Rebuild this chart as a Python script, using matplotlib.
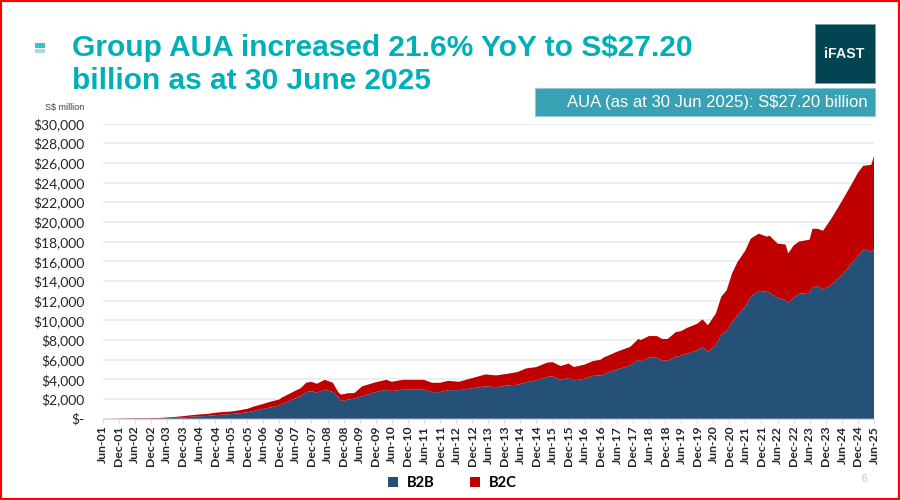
import matplotlib
matplotlib.use('Agg')
import matplotlib.pyplot as plt
import matplotlib.patches as mpatches
import numpy as np

# months since Jun-01, B2B and total AUA (S$ million)
months = [0, 3, 6, 9, 12, 15, 18, 21, 24, 27, 30, 33, 36, 39, 42, 45, 48, 51, 54, 57, 60, 63, 66,
          67, 71, 74, 76, 78, 80, 83, 86, 88, 89, 92, 94, 97, 102, 106, 108, 112, 120, 123,
          126, 129, 133, 137, 143, 147, 152, 155, 158, 162, 166, 168, 171, 174, 176, 180, 183, 186,
          187, 192, 197, 200, 201, 204, 207, 209, 211, 214, 216, 218, 222, 224, 226, 229, 231, 233, 235, 237,
          240, 242, 245, 248, 249, 252, 255, 256, 258, 260, 264, 265, 267, 269, 272, 276, 280, 282, 284, 287, 288]
b2b = [0, 5, 10, 15, 20, 20, 25, 30, 60, 90, 130, 200, 250, 280, 350, 420, 470, 550, 650, 820, 1000, 1150, 1350,
       1450, 1950, 2300, 2700, 2800, 2650, 2950, 2700, 2200, 1800, 1950, 2050, 2300, 2700, 2950, 2800, 2950, 2950, 2700,
       2700, 2900, 2900, 3050, 3300, 3200, 3400, 3450, 3700, 3900, 4250, 4300, 3950, 4150, 3900, 4050, 4350, 4400,
       4500, 5000, 5400, 6000, 5800, 6200, 6200, 5900, 5900, 6300, 6400, 6600, 6950, 7300, 6800, 7500, 8600, 8900, 9800, 10500,
       11400, 12400, 13000, 12900, 12800, 12300, 12000, 11800, 12300, 12700, 12800, 13300, 13500, 13100, 13600, 14600, 15900, 16500, 17200, 17000, 17300]
total = [0, 10, 20, 40, 50, 50, 60, 70, 120, 180, 260, 350, 430, 480, 600, 680, 730, 850, 1000, 1280, 1500, 1750, 1950,
         2150, 2700, 3100, 3650, 3750, 3550, 3950, 3650, 2700, 2450, 2600, 2600, 3300, 3700, 3950, 3750, 3950, 3950, 3650,
         3650, 3850, 3750, 4050, 4500, 4400, 4600, 4750, 5100, 5250, 5700, 5750, 5350, 5600, 5250, 5500, 5850, 6000,
         6200, 6800, 7300, 8100, 8000, 8400, 8400, 8100, 8100, 8800, 8900, 9200, 9650, 10100, 9500, 10700, 12400, 13050, 14750, 15900,
         17100, 18300, 18800, 18500, 18600, 17800, 17700, 16800, 17600, 18000, 18200, 19300, 19300, 19100, 20300, 22100, 24000, 25000, 25700, 25800, 26700]
y_ticks = [0, 2000, 4000, 6000, 8000, 10000, 12000, 14000, 16000, 18000, 20000, 22000, 24000, 26000, 28000, 30000]
series_names = ['B2B', 'B2C']

NAVY = '#255077'
RED = '#C00000'
TEAL = '#00B0B9'
H = 500.
W = 900.

b2c = np.array(total) - np.array(b2b)

fig = plt.figure(figsize=(9, 5), dpi=100)
ax = fig.add_axes([102.5/W, 1 - 418.7/H, (874 - 102.5)/W, (418.7 - 123.5)/H])

polys = ax.stackplot(months, b2b, b2c, colors=[NAVY, RED], labels=series_names, linewidth=0, zorder=3)

ax.set_xlim(0, 288)
ax.set_ylim(0, 30000)
ax.set_yticks(y_ticks)
ax.set_yticklabels(['$-' if v == 0 else '${:,}'.format(v) for v in y_ticks],
                   family='Lato', fontsize=10, color='#262626')
ax.tick_params(axis='y', length=0, pad=13)

tick_pos = np.arange(0, 289, 6)
tick_lab = [('Jun-' if p % 12 == 0 else 'Dec-') + '%02d' % ((p + 5)//12 + 1) for p in tick_pos]
ax.set_xticks(tick_pos)
ax.set_xticklabels(tick_lab, rotation=90, family='Lato', fontweight='bold', fontsize=8.8, color='#262626')
ax.tick_params(axis='x', length=3, width=0.8, color='#D9D9D9', pad=2)

ax.grid(axis='y', color='#EBEBEB', lw=1.2, zorder=0)
ax.set_axisbelow(True)
for s in ('top', 'left', 'right'):
    ax.spines[s].set_visible(False)
ax.spines['bottom'].set_color('#D9D9D9')
ax.spines['bottom'].set_linewidth(0.8)

fig.legend(handles=polys, labels=series_names, loc='center', bbox_to_anchor=(0.503, 1 - 483/H), ncol=2,
           frameon=False, handlelength=0.68, handleheight=0.68, handletextpad=0.6, columnspacing=2.4,
           prop={'family': 'Lato', 'weight': 'bold', 'size': 10.6})

# slide furniture, in pixel positions of the figure
def box(x0, y0, x1, y1, **kw):
    fig.add_artist(mpatches.Rectangle((x0/W, 1 - y1/H), (x1 - x0)/W, (y1 - y0)/H, transform=fig.transFigure, **kw))

box(1, 1, 899, 499, fc='none', ec='#FF0000', lw=1.5)
box(34.5, 43.3, 45, 47.7, fc='#3FBFC6', ec='none')
box(34.5, 49, 45, 53.3, fc='#A6DEDF', ec='none')
box(814.5, 23.5, 875, 83, fc='#024451', ec='#6FA0AA', lw=0.6)
box(534.5, 88.5, 875, 116, fc='#38A1B3', ec='#8CCBD4', lw=0.8)

fig.text(72/W, 1 - 48.5/H, 'Group AUA increased 21.6% YoY to S$27.20', family='Liberation Sans', fontweight='bold',
         fontsize=21.5, color=TEAL, ha='left', va='center')
fig.text(72/W, 1 - 81/H, 'billion as at 30 June 2025', family='Liberation Sans', fontweight='bold',
         fontsize=21.5, color=TEAL, ha='left', va='center')
fig.text(844.5/W, 1 - 53.5/H, 'iFAST', family='Liberation Sans', fontweight='bold', fontsize=10.2, color='#F2F2F2',
         ha='center', va='center')
fig.text(868/W, 1 - 103/H, 'AUA (as at 30 Jun 2025): S$27.20 billion', family='Liberation Sans', fontsize=12,
         color='white', ha='right', va='center')
fig.text(84.5/W, 1 - 107.5/H, 'S$ million', family='Liberation Sans', fontsize=6.5, color='#404040',
         ha='right', va='center')
fig.text(864.5/W, 1 - 479/H, '6', family='Liberation Sans', fontsize=7, color='#BFBFBF', ha='center', va='center')

fig.savefig('out.png', dpi=100)
